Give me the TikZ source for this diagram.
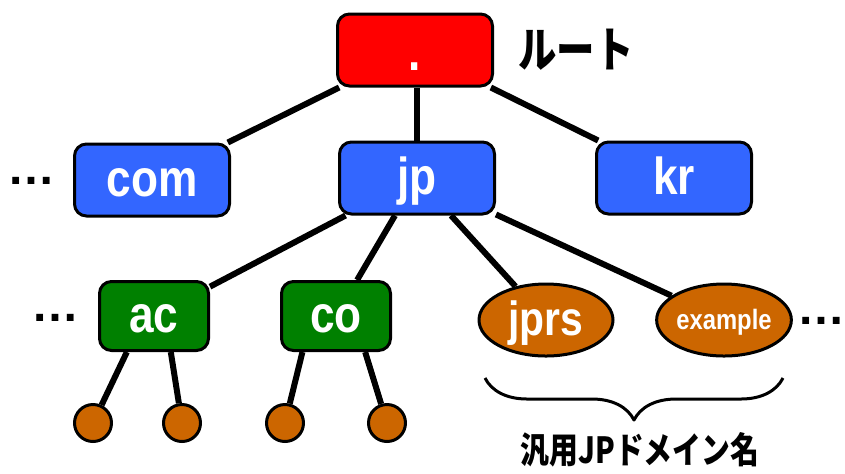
\documentclass[tikz,border=0pt]{standalone}
\usepackage{fontspec}
\setmainfont{Liberation Sans}
\newfontfamily\labelfont{Liberation Sans}[FakeStretch=0.85]
\newfontfamily\jpfont{Noto Sans CJK JP}[FakeStretch=0.8]
\usetikzlibrary{shapes.geometric,decorations.pathreplacing}
\definecolor{boxblue}{RGB}{51,102,255}
\definecolor{boxgreen}{RGB}{0,128,0}
\definecolor{leaforange}{RGB}{204,102,0}
\begin{document}
\begin{tikzpicture}[x=.5pt,y=-.5pt,line join=round,
	box/.style={draw,line width=1.5pt,rounded corners=6pt,minimum width=77.5pt,minimum height=36pt,
		text=white,font=\labelfont\bfseries\fontsize{26}{26}\selectfont,text height=19.5pt,text depth=2.6pt},
	small/.style={box,minimum width=54.5pt,minimum height=34.5pt},
	oval/.style={ellipse,draw,line width=1.5pt,fill=leaforange,minimum width=67pt,minimum height=36pt,
		inner sep=0pt,text=white},
	leaf/.style={circle,draw,line width=1.5pt,fill=leaforange,minimum size=18.5pt,inner sep=0pt},
	edge/.style={line width=3pt},
	more/.style={font=\bfseries\fontsize{24}{24}\selectfont,text height=2.5pt,text depth=0pt,inner sep=0pt}]
	\useasboundingbox (0,0) rectangle (845,473);
	
	% root
	\node[box,fill=red,text height=20.8pt,text depth=0pt] (root) at (415,50) {.};
	\node[anchor=west,inner sep=0pt,font=\jpfont\bfseries\fontsize{24}{24}\selectfont] (rootname) at (518,50) {ルート};
	
	% TLD
	\node[box,fill=boxblue] (com) at (152,180) {com};
	\node[box,fill=boxblue] (jp) at (417,178) {jp};
	\node[box,fill=boxblue] (kr) at (674,178) {kr};
	
	% second level
	\node[small,fill=boxgreen] (ac) at (154,316) {ac};
	\node[small,fill=boxgreen] (co) at (336,316) {co};
	\node[oval,font=\labelfont\bfseries\fontsize{24}{24}\selectfont,text height=18pt,text depth=2.4pt] (jprs) at (546,320) {jprs};
	\node[oval,font=\labelfont\bfseries\fontsize{14}{14}\selectfont,text height=10.5pt,text depth=1.4pt] (example) at (724,320) {example};
	
	\node[more] (more1) at (32,182) {…};
	\node[more] (more2) at (56,319) {…};
	\node[more] (more3) at (821,322) {…};
	
	\draw[edge] (root) -- (com);
	\draw[edge] (jp |- root.south) -- (jp);
	\draw[edge] (root) -- (kr);
	\draw[edge] (jp) -- (ac);
	\draw[edge] (jp) -- (co);
	\draw[edge] (jp) -- (jprs);
	\draw[edge] (jp) -- (example);
	
	% third level
	\foreach \n/\x/\p/\a in {leafa/93/ac/-127,leafb/182/ac/-65,leafc/285/co/-133,leafd/387/co/-51}{
		\node[leaf] (\n) at (\x,423) {};
		\draw[edge] (\p.\a) -- (\n);
	}
	
	% brace
	\coordinate (bracel) at (485,378);
	\coordinate (bracer) at (783,378);
	\draw[line width=1.5pt,decorate,decoration={brace,amplitude=21pt}] (bracer) -- (bracel);
	\node[font=\jpfont\bfseries\fontsize{18}{18}\selectfont] (domname) at (640,450) {汎用JPドメイン名};
\end{tikzpicture}
\end{document}
